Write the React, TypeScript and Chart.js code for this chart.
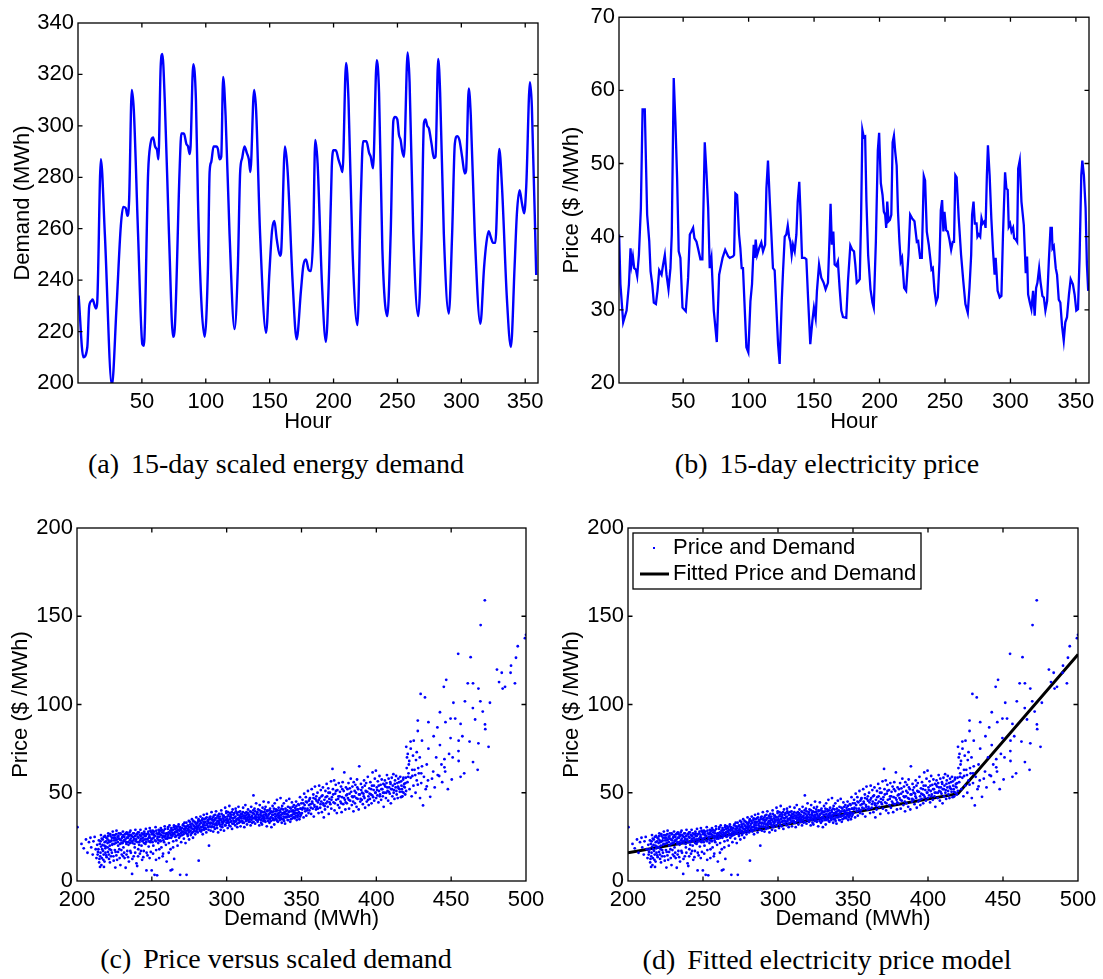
import React, { useEffect, useRef } from 'react';
import { Chart, registerables } from 'chart.js';

Chart.register(...registerables);

const SANS = '"Liberation Sans", Arial, Helvetica, sans-serif';
const SERIF = '"Liberation Serif", "Times New Roman", Times, serif';
const FS = 22;
const BLUE = '#0000ff';

// ---------- tick labels ----------
const hourTicks = [50, 100, 150, 200, 250, 300, 350];
const demandTicks = [200, 220, 240, 260, 280, 300, 320, 340];
const priceTicks = [20, 30, 40, 50, 60, 70];
const scatterDemandTicks = [200, 250, 300, 350, 400, 450, 500];
const scatterPriceTicks = [0, 50, 100, 150, 200];

// ---------- (a) 15-day scaled energy demand ----------
const demandHours = [0.5, 4.2, 7.3, 8.8, 10.7, 11.4, 14, 15, 17.9, 21, 26.5, 30.2, 33.5, 35.4, 37.4, 38.7, 40, 42.1, 43.7, 47, 50.4, 51.5, 54.9, 56.7, 58.8, 60.3, 61.9, 62.9, 64.7, 66, 67.9, 71.2, 74.4, 75.7, 79.6, 80.9, 82.9, 84.8, 86.1, 87.4, 88.1, 90.2, 92.3, 93.9, 96.5, 99.1, 101.7, 103, 104.3, 106.1, 108.2, 109.5, 110.8, 112.1, 113.6, 115.5, 118.6, 122.5, 125.1, 126.9, 128.5, 130.3, 132.1, 133.7, 134.9, 137.8, 139.4, 142.5, 147.2, 149.8, 151.9, 153.7, 155.5, 158.1, 158.9, 162, 164.1, 168, 171.1, 174.5, 176.3, 178.4, 180.5, 182.3, 184.1, 185.7, 187.5, 190.9, 194, 196.6, 198.6, 199.9, 201.8, 203.8, 205.7, 207, 209.8, 211.7, 214.8, 218.7, 221.3, 223.1, 225.7, 227.8, 229.1, 230.9, 233.8, 235.6, 238.2, 242.1, 244.7, 246.8, 248.1, 249.9, 251.2, 252.5, 253.8, 255.1, 258, 259.5, 262.4, 266.3, 268.9, 270.7, 272, 273.3, 274.6, 276.7, 278.5, 279.8, 281.9, 283.4, 286.3, 290.2, 292.8, 294.9, 296.7, 298.5, 300.6, 302.7, 303.7, 305.8, 307.4, 310.5, 314.9, 317.8, 319.6, 321.4, 323.2, 324.8, 326.6, 329.7, 331.8, 335.7, 338.8, 341.7, 343.5, 345.6, 347.4, 349.2, 350.8, 353.7, 355.2, 358.6];
const demandValues = [234, 210, 214, 230, 232, 232.5, 229, 231, 287, 258, 199, 230, 261, 268.5, 268, 265, 271, 314, 306, 258, 215, 214.5, 282, 293, 295.5, 292, 290.5, 287, 323, 328, 310, 258, 218, 221, 284, 297, 297, 293, 292, 289, 292, 324, 310, 271, 232, 218, 245, 282, 286, 292, 292, 291, 287, 288, 319, 304, 258, 221, 245, 282, 287.5, 292, 289.5, 287, 282, 314, 306, 258, 219.5, 243, 259.5, 263, 256, 249.5, 250.5, 292, 282, 239, 217, 236, 245.5, 248, 244, 243.5, 258, 294.5, 285.5, 239, 216, 245, 284, 290.5, 290.5, 287, 284, 282, 324.5, 310, 252, 222.5, 271, 294, 294, 289.5, 288, 283.5, 325.5, 313, 252, 226, 258, 302, 303.5, 302.5, 296.5, 294.5, 290, 288, 328.5, 317, 258, 226, 258, 301, 302.5, 300, 299, 293, 287.5, 288, 326, 313, 258, 227, 258, 293, 296, 294.5, 288, 281.5, 282.5, 314.5, 304, 258, 223, 245, 254.5, 259, 256.5, 254.5, 254.5, 291, 276.5, 232.5, 214, 245.5, 266, 275, 270, 266, 276.5, 317, 307.5, 242];

// ---------- (b) 15-day electricity price ----------
const priceHours = [1.1, 2.1, 4.2, 6.8, 8.6, 9.8, 10.6, 11.6, 12.6, 13.9, 14.9, 16.2, 17.7, 19, 20.7, 22.5, 24.1, 25.1, 26.4, 27.6, 29.2, 30.4, 31.7, 33.5, 34.7, 36, 37.3, 38.8, 40.3, 41.3, 42.8, 44.1, 45.4, 46.6, 47.9, 49.5, 52, 53.8, 55.1, 56.3, 57.6, 58.6, 60.2, 61.4, 63.2, 64.7, 66.5, 67.8, 69.1, 70.3, 71.6, 73.4, 75.7, 77.5, 78.5, 80.1, 82.1, 84.4, 85.6, 88.1, 88.9, 89.9, 91.2, 92.7, 93.7, 94.7, 95.7, 97, 98.3, 99.8, 101.4, 102.6, 103.9, 104.7, 105.4, 106.5, 108, 109.7, 111, 112.6, 113.6, 114.8, 116.2, 117.4, 118.6, 119.9, 121.2, 122.5, 123.7, 125.3, 126.3, 127.6, 128.8, 129.9, 130.9, 131.9, 132.9, 133.9, 135.2, 136.5, 137.5, 138.7, 139.7, 140.8, 142.8, 144.1, 145.4, 147.1, 148.7, 149.9, 151.2, 152.2, 153.8, 155.5, 157.3, 158.8, 160.6, 161.9, 162.6, 163.6, 164.7, 165.7, 167, 168.2, 169.5, 170.8, 172.1, 174.6, 175.9, 177.7, 179.2, 180.5, 181.5, 182.6, 183.8, 184.9, 185.9, 186.9, 188, 189, 190, 191.3, 193.1, 194.6, 195.6, 197.2, 198.7, 199.7, 201, 202.3, 203.3, 204.3, 205.1, 205.9, 206.9, 207.9, 209, 210, 211, 212, 213.1, 214.1, 215.2, 216.2, 217.2, 218.8, 220.3, 222.1, 223.4, 224.9, 226.7, 228.5, 229.5, 231, 232.3, 233.8, 234.8, 236.1, 237.6, 239.7, 240.7, 242, 243.2, 244.5, 245.8, 246.8, 247.8, 248.8, 249.6, 250.9, 252.1, 253.4, 254.7, 255.9, 256.9, 257.9, 258.9, 260.5, 262.3, 264, 265.6, 267.4, 268.7, 270, 270.7, 271.8, 272.8, 274.1, 274.8, 275.8, 276.9, 277.9, 278.9, 280.2, 281, 282, 282.8, 284.1, 285.4, 286.7, 287.9, 288.7, 289.5, 290.2, 291.8, 293.1, 294.3, 295.9, 296.9, 297.9, 298.7, 299.7, 300.8, 302, 302.8, 304.1, 305.1, 305.9, 307.1, 308.4, 310.2, 311.7, 312.7, 313.5, 314.8, 316, 317.3, 318.5, 319.6, 320.6, 321.9, 322.9, 324.4, 325.5, 326.7, 328, 329.3, 330.6, 331.6, 332.1, 333.1, 334.6, 335.6, 336.9, 338.1, 339.4, 340.7, 341.9, 343.2, 344.7, 346, 347.7, 349, 350.3, 351.6, 352.8, 354.1, 354.9, 356.1, 357.4, 358.4, 359.4];
const priceValues = [40.3, 33.5, 28.3, 29.9, 33.5, 38.4, 36.2, 37.3, 35.7, 35.5, 34.6, 37.5, 43.9, 57.4, 57.4, 43, 39.4, 35.3, 33.5, 31, 30.8, 32.6, 35.4, 34.8, 36.2, 37.5, 34.8, 32.8, 35.7, 40.3, 61.7, 55.6, 47.9, 38, 37.1, 30.3, 29.8, 34.4, 40.3, 40.7, 41.2, 39.8, 39.3, 38.4, 36.9, 36.9, 52.9, 48.8, 43.9, 35.7, 37.1, 29.9, 25.6, 34.8, 35.7, 37.1, 38.2, 37.3, 37.1, 37.3, 37.5, 45.9, 45.7, 40.3, 38.4, 35.7, 35.7, 30.3, 24.9, 24.2, 31.2, 33.5, 38.9, 37.1, 39.6, 37.5, 38.4, 39.2, 38, 38.9, 46.6, 50.4, 44.8, 40.3, 35.7, 35.4, 30.3, 25.3, 22.6, 31.2, 35.3, 40, 40.3, 41.5, 40, 39.3, 37.5, 38.9, 38, 40.3, 44.8, 47.5, 43, 37.1, 37.1, 36.9, 31.7, 25.3, 28.5, 30.3, 28.9, 32.6, 36.2, 34.4, 33.7, 32.8, 33.7, 40.3, 44.5, 38.9, 40.7, 36.2, 36, 36.6, 33, 29.9, 29, 28.9, 33.9, 38.8, 38.2, 38, 36.2, 33.7, 33.9, 34.2, 42.5, 54.6, 53.6, 53.7, 44.8, 37.5, 32.8, 31, 30.3, 39.3, 51.8, 54.2, 47.3, 45.7, 43.4, 43, 41.2, 44.8, 42.1, 42.3, 43, 52.9, 53.8, 51.6, 49.7, 43.4, 39.3, 36.6, 37.1, 33, 32.6, 37.5, 43, 42.5, 42.1, 39.3, 39.4, 37.1, 37.1, 48.3, 47.7, 40.7, 38.9, 35.5, 35.7, 32.6, 31, 31.7, 36.6, 43.6, 45, 40.7, 43.4, 40.9, 40.7, 39.6, 38.2, 39.3, 39.3, 48.4, 48.1, 42.5, 37.5, 33.9, 30.8, 29.6, 33, 37.5, 43, 44.8, 41.8, 41.8, 40, 40.3, 40, 42.5, 41.8, 42.1, 41.2, 48.4, 52.5, 48.4, 42.5, 38, 34.8, 37.1, 34.8, 32.6, 31.7, 31.9, 40.3, 48.8, 46.6, 46.4, 41.4, 41.8, 40.7, 41.2, 39.8, 39.6, 39.3, 49.3, 50.4, 44.8, 41.6, 35, 37.3, 32.1, 31, 30.1, 32.6, 29.2, 33, 33.7, 35.7, 33.9, 31.9, 31.7, 29.9, 31.2, 36.6, 41.2, 41.2, 38.4, 38.7, 35.7, 34.8, 31.4, 31, 27.8, 25.8, 28.3, 29, 32.1, 34.2, 33.5, 32.1, 29.9, 30.1, 37.1, 48.4, 50.4, 48.4, 43.9, 36.2, 32.6];

// ---------- (c)/(d) price vs demand scatter: [demand MWh, price $/MWh] ----------
const lowDemandPoints: [number, number][] = [
  [200.3, 30.5], [203, 21], [204.5, 18.5], [206, 23.5], [207, 16], [208, 22], [209, 24.5], [209.5, 19],
  [210.5, 15], [211, 22.5], [211.8, 25], [212.5, 18], [213, 13], [213.5, 20.5], [214, 16.5], [214.6, 23], [214.8, 10.5],
  [215.2, 21], [215.4, 8], [215.5, 14], [216, 26], [216.3, 9], [216.8, 18], [217.2, 23.5], [217.6, 12], [218, 8], [218.3, 20], [218.7, 25.5], [219, 16], [219.4, 22.5], [219.8, 13.5],
  [220.2, 24], [220.5, 19], [220.9, 27], [221.3, 15], [221.6, 22], [222, 10.5], [222.4, 25.5], [222.8, 17.5], [223.1, 23], [223.5, 20.5], [223.9, 28], [224.3, 14], [224.6, 24.5], [224.9, 21],
  [225.2, 26], [225.6, 7.6], [225.8, 16.5], [226, 23], [226.4, 28.5], [226.8, 12], [227.1, 25], [227.5, 20], [227.9, 27], [228.3, 18], [228.6, 23.5], [229, 9], [229.3, 26.5], [229.7, 21.5], [229.9, 15],
  [230.3, 25], [230.7, 28], [231, 19], [231.4, 23], [231.8, 13], [232.1, 26.5], [232.5, 7.5], [232.9, 22], [233.2, 27.5], [233.6, 17], [234, 24.5], [234.4, 20.5], [234.7, 11], [234.9, 26],
  [235.3, 23], [235.7, 28.5], [236, 16], [236.4, 25.5], [236.8, 4], [237.1, 21.5], [237.5, 27], [237.9, 14], [238.2, 24], [238.6, 19], [239, 29], [239.3, 22.5], [239.7, 10], [239.9, 26.5],
  [240.2, 8.5], [240.5, 25], [240.9, 18], [241.3, 27.5], [241.6, 22], [242, 15.5], [242.4, 29], [242.8, 24], [243.1, 20], [243.5, 12], [243.9, 26.5], [244.2, 23], [244.6, 17], [244.9, 28],
  [245.3, 25.5], [245.7, 21], [246, 29.5], [246.4, 6], [246.8, 23.5], [247.1, 14.5], [247.5, 27], [247.9, 19.5], [248.2, 25], [248.6, 30], [249, 22], [249.3, 16.5], [249.7, 27.5], [249.9, 6],
  [250.3, 24], [250.6, 28.5], [251, 20], [251.4, 26], [251.8, 3.5], [252.1, 23], [252.5, 30.5], [252.9, 17.5], [253.2, 27], [253.5, 3.2], [253.9, 25], [254.3, 21.5], [254.6, 29], [254.9, 13],
  [255.3, 26.5], [255.7, 23], [256, 30], [256.4, 19], [256.8, 27.5], [257.1, 24.5], [257.5, 15.5], [257.9, 28.5], [258.2, 22], [258.6, 31], [259, 25.5], [259.4, 20.5], [259.7, 27], [259.9, 11],
  [260.3, 24], [260.7, 29.5], [261, 26], [261.4, 21.5], [261.8, 31.5], [262.1, 27], [262.5, 18], [262.6, 6], [262.9, 24.5], [263.2, 29], [263.6, 6.5], [264, 26.5], [264.3, 22.5], [264.7, 30.5], [264.9, 12.5],
  [265.3, 27.5], [265.7, 25], [266, 31], [266.4, 23], [266.8, 28.5], [267.2, 20], [267.5, 26], [267.9, 32], [268.2, 24.5], [268.6, 29.5], [268.9, 3.5], [269.3, 27], [269.6, 22], [269.9, 30],
  [270.3, 26], [270.7, 31.5], [271, 28], [271.4, 24], [271.8, 33], [272.1, 29], [272.5, 21.5], [272.9, 27], [273.2, 3.5], [273.6, 31], [274, 25.5], [274.3, 29.5], [274.7, 34], [274.9, 23.5],
  [275.3, 28], [275.7, 32], [276, 26], [276.4, 30], [276.8, 35], [277.1, 27.5], [277.5, 24.5], [277.9, 31.5], [278.2, 29], [278.6, 33.5], [279, 26.5], [279.3, 30.5], [279.7, 36], [279.9, 28.5],
  [280.3, 31], [280.7, 27.5], [281, 34], [281.3, 11.5], [281.8, 29.5], [282.1, 32.5], [282.5, 36.5], [282.9, 28], [283.2, 30.5], [283.6, 34.5], [284, 26.5], [284.3, 32], [284.7, 37.5], [284.9, 29],
  [285.3, 33], [285.7, 30], [286, 35.5], [286.4, 27.5], [286.8, 38], [287.1, 31.5], [287.5, 34], [287.9, 29], [288.2, 20], [288.6, 36], [289, 32.5], [289.3, 28.5], [289.7, 35], [289.9, 39],
  [290.3, 31], [290.7, 34.5], [291, 28], [291.4, 37], [291.8, 32], [292.1, 29.5], [292.5, 35.5], [292.9, 39.5], [293.2, 33], [293.6, 30], [294, 36.5], [294.3, 27.5], [294.7, 34], [294.9, 38],
  [295.3, 32], [295.7, 35], [296, 29], [296.4, 40], [296.8, 33.5], [297.1, 30.5], [297.5, 37], [297.9, 34.5], [298.2, 28.5], [298.6, 36], [299, 41.5], [299.3, 31.5], [299.7, 38.5], [299.9, 33],
];
const lowerTailPoints: [number, number][] = [
  [213.8, 15], [214.3, 18], [215, 12.5], [215.7, 16], [216.1, 19.5], [216.6, 13], [217.4, 17], [217.8, 15], [218.4, 11], [218.9, 18.5], [219.5, 14.5], [220.7, 16.5], [221.4, 12.5], [221.8, 18], [222.7, 14], [223.3, 16], [224.5, 11.5], [225.3, 17.5], [226.3, 14.5], [227.4, 16.5],
  [228.5, 13], [229.6, 17.5], [230.8, 14], [231.5, 16], [233.1, 15], [234.1, 13.5], [235.6, 17], [237, 12.5], [238.9, 16], [240.8, 14], [242.7, 17], [244.3, 13.5], [246.5, 16], [248.5, 13], [250.8, 15.5], [252.8, 12], [255, 18], [257.2, 14], [261.3, 16], [264.2, 19],
];
const coreBandPoints: [number, number][] = [
  [215.8, 22.5], [216.5, 24], [217, 20.5], [217.9, 25], [218.5, 22], [219.2, 19.5], [219.6, 24.5], [220.4, 21.5], [220.8, 25.5], [221.1, 23], [221.9, 20], [222.2, 26.5], [222.6, 22.5], [223.3, 24.5], [223.7, 21], [224.1, 26], [224.8, 23], [225.4, 24.5], [225.9, 21.5], [226.2, 26.5],
  [226.6, 23.5], [227.3, 22], [227.7, 25.5], [228.1, 24], [228.8, 21], [229.1, 27], [229.5, 23], [230.1, 24.5], [230.5, 21.5], [230.9, 26], [231.2, 22.5], [231.6, 25], [232.3, 23.5], [232.7, 27], [233, 21], [233.4, 24.5], [233.8, 26.5], [234.2, 22], [234.6, 25.5], [235.1, 27.5],
  [235.5, 21.5], [235.9, 24], [236.2, 26], [236.6, 22.5], [237.3, 25], [237.7, 23], [238, 27], [238.4, 21], [238.8, 25.5], [239.5, 23.5], [240, 26.5], [240.4, 22], [240.7, 27.5], [241.1, 24.5], [241.5, 20.5], [241.9, 26], [242.2, 23], [242.6, 25.5], [243.3, 27], [243.7, 22.5],
  [244, 24.5], [244.4, 26.5], [244.8, 21.5], [245.1, 27], [245.5, 23.5], [245.9, 25.5], [246.2, 22], [246.6, 26.5], [247.3, 24], [247.7, 28], [248, 22.5], [248.4, 26], [248.8, 24.5], [249.1, 28.5], [249.5, 23], [250.1, 26.5], [250.5, 22], [250.9, 27], [251.2, 24.5], [251.6, 28],
  [252.3, 25.5], [252.7, 22.5], [253, 28.5], [253.7, 24], [254.1, 26.5], [254.5, 23], [254.8, 27.5], [255.1, 25], [255.5, 28.5], [255.9, 22.5], [256.2, 26], [256.6, 29], [257.3, 25.5], [257.7, 23], [258, 27], [258.4, 25], [258.8, 29.5], [259.2, 24], [259.6, 26.5],
  [260.1, 27], [260.5, 25], [260.9, 30.5], [261.2, 27.5], [261.6, 24.5], [262.3, 28.5], [262.7, 26], [263, 30], [263.4, 27.5], [263.8, 25.5], [264.1, 29], [264.5, 27], [264.8, 31.5], [265.1, 26.5], [265.5, 29.5], [265.9, 28], [266.2, 25.5], [266.6, 30], [267, 27.5], [267.4, 29],
  [267.7, 31], [268.1, 26.5], [268.4, 28.5], [268.8, 30.5], [269.1, 25.5], [269.5, 29], [269.8, 27.5], [270.1, 30], [270.5, 28], [270.9, 32], [271.2, 26.5], [271.6, 29.5], [272, 31], [272.3, 27.5], [272.7, 30], [273.1, 33], [273.4, 28.5], [273.8, 26.5], [274.1, 31.5], [274.5, 29],
  [274.8, 27.5], [275.1, 30.5], [275.5, 33.5], [275.9, 28.5], [276.2, 31], [276.6, 27], [277, 32.5], [277.3, 29.5], [277.7, 34], [278, 28], [278.4, 31], [278.8, 30], [279.1, 33], [279.5, 28], [279.8, 32], [280.1, 29.5], [280.5, 33], [280.9, 30.5], [281.2, 35], [281.6, 31.5],
  [282, 28.5], [282.3, 34], [282.7, 30.5], [283, 33], [283.4, 29], [283.8, 35.5], [284.1, 31], [284.5, 33.5], [284.8, 30], [285.1, 35], [285.5, 31.5], [285.9, 33.5], [286.2, 29.5], [286.6, 36], [287, 32.5], [287.3, 34.5], [287.7, 30.5], [288, 33], [288.4, 35], [288.8, 31],
  [289.1, 36.5], [289.5, 33], [289.8, 30.5], [290.1, 35], [290.5, 32.5], [290.9, 36], [291.2, 33.5], [291.6, 30.5], [292, 34.5], [292.3, 37.5], [292.7, 32], [293, 35.5], [293.4, 31.5], [293.8, 34], [294.1, 37], [294.5, 32.5], [294.8, 35.5], [295.1, 33], [295.5, 36.5], [295.9, 31],
  [296.2, 34.5], [296.6, 38], [297, 32], [297.3, 35.5], [297.7, 33], [298, 37], [298.4, 34], [298.8, 31.5], [299.1, 36], [299.5, 34.5], [299.8, 39.5],
  [300.1, 33], [300.5, 36.5], [300.9, 34], [301.2, 37.5], [301.6, 31.5], [302, 35], [302.3, 38.5], [302.7, 33.5], [303, 36], [303.4, 39], [303.8, 32.5], [304.1, 35.5], [304.5, 37.5], [304.8, 34], [305.1, 38.5], [305.5, 33.5], [305.9, 36.5], [306.2, 39.5], [306.6, 35], [307, 32.5],
  [307.3, 37.5], [307.7, 35.5], [308, 39], [308.4, 34.5], [308.8, 36], [309.1, 33.5], [309.5, 38], [309.8, 35.5], [310.1, 36.5], [310.5, 34], [310.9, 39], [311.2, 37], [311.6, 33], [312, 35.5], [312.3, 38.5], [312.7, 36], [313, 34], [313.4, 37.5], [313.8, 35], [314.1, 38.5],
  [314.5, 34.5], [314.8, 36.5], [315.1, 37.5], [315.5, 33.5], [315.9, 36], [316.2, 39], [316.6, 34.5], [317, 37], [317.3, 35.5], [317.7, 40], [318, 33.5], [318.4, 38], [318.8, 36], [319.1, 39.5], [319.5, 35], [320.1, 36], [320.5, 39], [320.9, 34.5], [321.2, 37.5], [321.6, 35],
  [322, 40], [322.3, 36], [322.7, 38.5], [323, 33], [323.4, 37], [323.8, 35.5], [324.1, 39], [324.5, 34], [324.8, 37.5], [325.1, 36], [325.5, 40.5], [325.9, 33.5], [326.2, 38], [326.6, 35.5], [327, 39.5], [327.3, 36.5], [327.7, 34], [328, 37.5], [328.4, 40], [328.8, 35],
  [329.1, 38.5], [329.5, 34], [330.1, 36], [330.5, 39], [330.9, 35.5], [331.2, 37.5], [331.6, 41], [332, 34.5], [332.3, 38], [332.7, 35.5], [333, 39.5], [333.4, 37], [333.8, 34], [334.1, 40], [334.5, 36], [334.8, 38.5], [335.1, 37], [335.5, 34.5], [335.9, 39], [336.2, 36],
  [336.6, 41], [337, 35], [337.3, 38], [337.7, 40.5], [338, 36.5], [338.4, 34], [338.8, 38], [339.1, 36], [339.5, 39.5], [340.1, 36], [340.5, 40], [340.9, 37.5], [341.2, 34.5], [341.6, 39], [342, 36.5], [342.3, 41.5], [342.7, 37], [343, 35], [343.4, 39.5], [343.8, 37.5],
  [344.1, 42], [344.5, 36], [344.8, 39], [345.1, 38], [345.5, 35.5], [345.9, 40], [346.2, 37], [346.6, 42.5], [347, 38.5], [347.3, 36], [347.7, 40.5], [348, 37.5], [348.4, 43], [348.8, 38.5], [349.1, 36.5], [349.5, 41],
  [350.5, 40.5], [351.2, 44], [352.3, 41], [353, 45], [353.8, 40], [355, 43], [355.5, 46.5], [356.2, 41.5], [357.3, 44], [358, 47], [358.8, 42], [360, 45.5], [360.9, 41], [361.6, 46], [362.7, 43.5], [363.4, 48], [364.5, 44], [365.5, 42.5], [366.2, 47.5], [367.3, 45],
  [368, 50], [368.8, 44.5], [370, 46], [371.2, 49], [372.3, 44], [373, 51], [374.5, 46.5], [375.5, 48], [376.6, 44], [377.3, 52], [378.4, 47], [379.5, 44.5], [380.5, 49], [381.6, 46], [382.3, 52.5], [383.8, 48], [384.5, 45], [385.5, 51], [386.6, 47], [387.3, 53],
  [388.4, 49], [389.5, 46.5], [390.5, 50], [391.6, 48], [392.3, 54], [393.4, 50.5], [394.5, 46], [395.5, 49.5], [396.6, 52], [397.3, 48.5], [398.4, 54], [399.5, 50], [400.5, 51.5], [401.6, 54], [402.3, 48], [403.4, 52], [404.5, 50], [405.5, 54.5], [406.6, 50], [407.3, 53],
  [408.4, 50.5], [409.5, 55], [410.5, 52], [411.6, 50], [412.3, 55], [413.4, 51], [414.5, 53.5], [415.5, 52], [416.6, 56.5], [417.3, 50.5], [418.4, 53.5], [419.5, 55.5],
];
const midDemandPoints: [number, number][] = [
  [300.3, 35], [300.7, 30], [301, 39], [301.4, 33], [301.8, 42.5], [302.1, 36.5], [302.5, 31], [302.9, 37.5], [303.2, 34], [303.6, 29.5], [304, 40.5], [304.3, 35.5], [304.7, 32.5], [304.9, 38],
  [305.3, 36], [305.7, 31.5], [306, 41], [306.4, 34], [306.8, 38.5], [307.1, 30.5], [307.5, 35], [307.9, 42], [308.2, 33], [308.6, 37], [309, 39.5], [309.3, 31], [309.7, 36.5], [309.9, 34],
  [310.3, 38], [310.7, 33], [311, 41.5], [311.4, 35.5], [311.8, 30.5], [312.1, 37], [312.5, 43], [312.9, 34.5], [313.2, 39], [313.6, 32], [314, 36], [314.3, 40.5], [314.7, 33.5], [314.9, 37.5],
  [315.3, 35], [315.7, 39.5], [316, 31.5], [316.4, 42], [316.8, 36.5], [317.1, 33], [317.5, 38.5], [317.9, 48.5], [318.2, 35.5], [318.6, 41], [319, 32.5], [319.3, 37], [319.7, 44], [319.9, 34.5],
  [320.3, 38], [320.7, 33.5], [321, 40.5], [321.4, 36], [321.8, 31.5], [322.1, 43], [322.5, 37.5], [322.9, 34.5], [323.2, 39.5], [323.6, 32], [324, 41.5], [324.3, 36.5], [324.7, 45], [324.9, 35],
  [325.3, 39], [325.7, 34], [326, 42], [326.4, 37], [326.8, 31], [327.1, 40], [327.5, 35.5], [327.9, 44.5], [328.2, 38], [328.6, 33], [329, 41], [329.3, 36], [329.7, 39.5], [329.9, 30.5],
  [330.3, 37.5], [330.7, 42.5], [331, 34.5], [331.4, 39.5], [331.8, 32], [332.1, 44], [332.5, 36.5], [332.9, 40.5], [333.2, 35], [333.6, 46], [334, 38], [334.3, 33.5], [334.7, 41.5], [334.9, 37],
  [335.3, 35.5], [335.7, 40], [336, 47], [336.4, 37.5], [336.8, 33], [337.1, 42.5], [337.5, 38.5], [337.9, 35], [338.2, 44], [338.6, 39], [339, 32.5], [339.3, 41], [339.7, 36.5], [339.9, 45.5],
  [340.3, 38], [340.7, 34.5], [341, 42], [341.4, 36.5], [341.8, 46.5], [342.1, 39.5], [342.5, 33.5], [342.9, 41], [343.2, 37], [343.6, 44.5], [344, 35.5], [344.3, 40], [344.7, 38], [344.9, 43],
  [345.3, 36], [345.7, 41.5], [346, 38.5], [346.4, 45], [346.8, 34.5], [347.1, 40.5], [347.5, 37], [347.9, 43.5], [348.2, 39], [348.6, 35], [349, 47.5], [349.3, 41], [349.7, 37.5], [349.9, 44],
  [350.3, 38.5], [350.7, 46], [351, 41.5], [351.4, 36], [351.8, 49.5], [352.1, 43], [352.5, 39.5], [352.9, 47.5], [353.2, 37], [353.6, 44.5], [354, 41], [354.3, 51], [354.7, 38.5], [354.9, 45.5],
  [355.3, 40], [355.7, 47], [356, 43.5], [356.4, 38], [356.8, 52], [357.1, 45], [357.5, 41], [357.9, 49], [358.2, 36.5], [358.6, 43], [359, 53.5], [359.3, 46.5], [359.7, 40.5], [359.9, 48],
  [360.3, 42], [360.7, 50], [361, 44.5], [361.4, 38.5], [361.8, 54], [362.1, 47], [362.5, 41.5], [362.9, 51.5], [363.2, 45], [363.6, 39], [364, 48.5], [364.3, 53], [364.7, 43], [364.9, 36],
  [365.3, 46], [365.7, 40.5], [366, 51], [366.4, 44], [366.8, 55], [367.1, 48], [367.5, 42], [367.9, 52.5], [368.2, 38], [368.6, 46.5], [369, 50], [369.3, 43.5], [369.7, 56.5], [369.9, 41],
  [370.3, 47.5], [370.7, 63.5], [371, 52], [371.4, 44.5], [371.8, 57], [372.1, 40], [372.5, 49.5], [372.9, 54.5], [373.2, 46], [373.6, 38.5], [374, 51.5], [374.3, 43], [374.7, 48], [374.9, 55.5],
  [375.3, 41.5], [375.7, 50.5], [376, 45], [376.4, 53.5], [376.8, 39], [377.1, 47.5], [377.5, 56], [377.9, 43.5], [378.2, 51], [378.6, 61.5], [379, 46], [379.3, 40.5], [379.7, 53], [379.9, 48.5],
  [380.3, 44], [380.7, 52], [381, 47], [381.4, 55.5], [381.8, 41], [382.1, 49.5], [382.5, 45.5], [382.9, 58], [383.2, 50.5], [383.6, 43], [384, 53.5], [384.3, 47.5], [384.7, 39.5], [384.9, 56],
  [385.3, 48], [385.7, 44], [386, 54.5], [386.4, 50], [386.8, 42], [387.1, 57.5], [387.5, 46.5], [387.9, 52], [388.2, 40.5], [388.6, 65], [389, 49], [389.3, 45], [389.7, 55], [389.9, 51.5],
  [390.3, 46], [390.7, 53], [391, 43.5], [391.4, 49.5], [391.8, 57], [392.1, 47], [392.5, 41.5], [392.9, 51], [393.2, 55.5], [393.6, 45], [394, 50.5], [394.3, 59], [394.7, 48], [394.9, 43],
  [395.3, 52.5], [395.7, 46.5], [396, 56], [396.4, 49], [396.8, 44], [397.1, 54], [397.5, 61.5], [397.9, 47.5], [398.2, 51.5], [398.6, 45.5], [399, 58], [399.3, 50], [399.7, 62.5], [399.9, 47],
  [400.3, 53], [400.7, 48.5], [401, 56.5], [401.4, 44.5], [401.8, 51], [402.1, 59.5], [402.5, 49], [402.9, 54.5], [403.2, 46], [403.6, 57.5], [404, 52], [404.3, 48], [404.7, 55], [404.9, 42],
  [405.3, 50], [405.7, 57], [406, 53.5], [406.4, 47], [406.8, 55.5], [407.1, 60], [407.5, 51], [407.9, 45.5], [408.2, 58], [408.6, 53], [409, 49.5], [409.3, 56], [409.7, 44], [409.9, 52],
  [410.3, 58.5], [410.7, 48], [411, 54], [411.4, 60.5], [411.8, 51.5], [412.1, 46.5], [412.5, 57], [412.9, 53], [413.2, 59.5], [413.6, 49], [414, 55.5], [414.3, 47], [414.7, 58], [414.9, 52.5],
  [415.3, 56], [415.7, 50.5], [416, 59], [416.4, 47.5], [416.8, 54], [417, 47.7], [417.1, 52], [417.5, 48], [417.9, 57.5], [418.1, 58.5], [418.2, 50], [418.6, 55], [419, 53], [419.3, 49], [419.7, 58.5], [419.9, 51],
];
const highDemandPoints: [number, number][] = [
  [420, 76], [420.3, 64], [420.5, 70], [420.8, 56], [421, 72], [421.3, 59], [421.5, 61], [421.7, 66], [422, 68], [422.2, 52], [422.9, 79], [422.9, 58.5], [423, 75], [423.6, 48], [424, 63], [424.1, 59.5], [424.5, 71], [424.8, 54], [425, 79.5], [425.5, 63], [426, 60], [426.2, 50], [426.5, 68.5], [427, 57], [427, 73],
  [427.7, 85], [427.7, 90.9], [427.7, 54.6], [428, 64], [428.4, 61], [429, 70], [429.2, 47], [429.6, 106], [430, 55.5], [430, 61], [430.5, 79.5], [430.5, 65], [431.2, 42.8], [431.8, 59], [432.5, 104], [433, 52], [433.7, 66], [433.7, 53.6], [434.5, 57], [434.8, 90], [434.8, 75],
  [436, 47.7], [437.2, 58], [438, 62], [438.3, 82], [439, 53], [440, 70], [440.8, 87], [441, 60], [442, 59.5], [442.5, 95.6], [442.5, 77], [443.5, 66], [444, 56], [445.1, 110], [445.5, 69], [445.5, 64.4], [446, 62], [446.2, 90], [446.7, 114], [447.8, 52], [448.6, 72], [449.6, 92], [449.6, 81],
  [450.4, 57.5], [451, 70], [451.5, 101], [452.7, 92], [454.7, 128.7], [454.9, 73.6], [455, 79.5], [455, 68], [456.3, 89], [456.3, 59], [457.5, 82], [458.7, 61], [459.2, 101.8], [461.1, 112], [462.3, 79], [463, 126.8], [464.5, 98], [464.6, 112], [464.6, 67.4], [466, 91.5], [467.7, 63],
  [468.2, 109], [468.2, 78], [469.5, 101.8], [469.7, 145], [471.1, 96], [472.5, 159], [472.6, 88.7], [472.8, 86], [475, 76], [475.9, 101], [480.6, 119.8], [482, 112.7], [483.8, 118], [484.4, 109], [486, 110], [489.7, 118], [490, 122], [492.6, 112], [493.3, 126.5], [494.5, 133], [499.3, 137.6], [500, 139.5],
];

// ---------- (d) fitted piecewise price model ----------
const fittedDemand = [200, 420, 500];
const fittedPrice = [16, 49.5, 128.4];

const scatterPoints = [...lowDemandPoints, ...lowerTailPoints, ...coreBandPoints, ...midDemandPoints, ...highDemandPoints].map(([x, y]) => ({ x, y }));

// ---------- helpers ----------
const framePlugin = {
  id: 'frame',
  afterDatasetsDraw(chart: any, _args: any, opts: any) {
    const { ctx, chartArea: a, scales } = chart;
    ctx.save();
    ctx.strokeStyle = '#000';
    ctx.lineWidth = 1.3;
    ctx.strokeRect(a.left, a.top, a.right - a.left, a.bottom - a.top);
    const tl = 4.5;
    ctx.beginPath();
    scales.x.ticks.forEach((t: any) => {
      const px = scales.x.getPixelForValue(t.value);
      if (px <= a.left + 1 || px >= a.right - 1) return;
      ctx.moveTo(px, a.bottom); ctx.lineTo(px, a.bottom - tl);
      ctx.moveTo(px, a.top); ctx.lineTo(px, a.top + tl);
    });
    scales.y.ticks.forEach((t: any) => {
      const py = scales.y.getPixelForValue(t.value);
      if (py <= a.top + 1 || py >= a.bottom - 1) return;
      ctx.moveTo(a.left, py); ctx.lineTo(a.left + tl, py);
      ctx.moveTo(a.right, py); ctx.lineTo(a.right - tl, py);
    });
    ctx.stroke();

    ctx.fillStyle = '#000';
    ctx.font = `${FS}px ${SANS}`;
    ctx.textAlign = 'center';
    ctx.textBaseline = 'middle';
    ctx.fillText(opts.xTitle, (a.left + a.right) / 2, a.bottom + opts.xTitleOffset);
    ctx.save();
    ctx.translate(a.left - opts.yTitleOffset, (a.top + a.bottom) / 2);
    ctx.rotate(-Math.PI / 2);
    ctx.fillText(opts.yTitle, 0, 0);
    ctx.restore();

    if (opts.legend) {
      const bx = a.left + 5, by = a.top + 5, bw = 288, bh = 56;
      ctx.fillStyle = '#fff';
      ctx.fillRect(bx, by, bw, bh);
      ctx.lineWidth = 1.3;
      ctx.strokeStyle = '#000';
      ctx.strokeRect(bx, by, bw, bh);
      ctx.fillStyle = BLUE;
      ctx.fillRect(bx + 20, by + 14, 2, 2);
      ctx.strokeStyle = '#000';
      ctx.lineWidth = 3;
      ctx.beginPath();
      ctx.moveTo(bx + 7, by + 41); ctx.lineTo(bx + 36, by + 41);
      ctx.stroke();
      ctx.fillStyle = '#000';
      ctx.textAlign = 'left';
      ctx.fillText(opts.legendLabels[0], bx + 40, by + 15);
      ctx.fillText(opts.legendLabels[1], bx + 40, by + 41);
    }
    ctx.restore();
  },
};

function makeAxis(min: number, max: number, tickValues: number[], isX: boolean, size: number, pad: number) {
  return {
    type: 'linear',
    min,
    max,
    grid: { display: false, drawTicks: false },
    border: { display: false },
    ticks: { autoSkip: false, maxRotation: 0, padding: pad, color: '#000', font: { family: SANS, size: FS } },
    afterBuildTicks: (s: any) => { s.ticks = tickValues.map((v) => ({ value: v })); },
    afterFit: (s: any) => { if (isX) s.height = size; else s.width = size; },
  };
}

function baseOptions(padding: any, x: any, y: any, frame: any) {
  return {
    responsive: false,
    animation: false,
    events: [],
    layout: { padding, autoPadding: false },
    scales: { x, y },
    plugins: { legend: { display: false }, tooltip: { enabled: false }, frame },
  };
}

const configA = () => ({
  type: 'line',
  data: {
    datasets: [{
      data: demandHours.map((h, i) => ({ x: h, y: demandValues[i] })),
      borderColor: BLUE, borderWidth: 2.4, pointRadius: 0, cubicInterpolationMode: 'monotone', fill: false,
    }],
  },
  options: baseOptions(
    { left: 0, top: 23, right: 22, bottom: 0 },
    makeAxis(0, 360, hourTicks, true, 62, 6),
    makeAxis(200, 340, demandTicks, false, 78, 4),
    { xTitle: 'Hour', yTitle: 'Demand (MWh)', xTitleOffset: 38.5, yTitleOffset: 55.5 },
  ),
  plugins: [framePlugin],
});

const configB = () => ({
  type: 'line',
  data: {
    datasets: [{
      data: priceHours.map((h, i) => ({ x: h, y: priceValues[i] })),
      borderColor: BLUE, borderWidth: 2.3, pointRadius: 0, tension: 0, fill: false,
    }],
  },
  options: baseOptions(
    { left: 0, top: 14, right: 14, bottom: 0 },
    makeAxis(1, 360, hourTicks, true, 62, 6),
    makeAxis(20, 70, priceTicks, false, 59, 4),
    { xTitle: 'Hour', yTitle: 'Price ($ /MWh)', xTitleOffset: 38.5, yTitleOffset: 47 },
  ),
  plugins: [framePlugin],
});

const scatterDataset = () => ({
  type: 'scatter',
  data: scatterPoints,
  pointRadius: 1.4,
  pointBorderWidth: 0,
  pointBackgroundColor: BLUE,
  pointBorderColor: BLUE,
  showLine: false,
});

const configC = () => ({
  type: 'scatter',
  data: { datasets: [scatterDataset()] },
  options: baseOptions(
    { left: 0, top: 38, right: 34, bottom: 0 },
    makeAxis(200, 500, scatterDemandTicks, true, 59, 6),
    makeAxis(0, 200, scatterPriceTicks, false, 77, 4),
    { xTitle: 'Demand (MWh)', yTitle: 'Price ($ /MWh)', xTitleOffset: 38, yTitleOffset: 56 },
  ),
  plugins: [framePlugin],
});

const configD = () => ({
  type: 'scatter',
  data: {
    datasets: [
      scatterDataset(),
      {
        type: 'line',
        data: fittedDemand.map((d, i) => ({ x: d, y: fittedPrice[i] })),
        borderColor: '#000', borderWidth: 3, pointRadius: 0, tension: 0, fill: false,
      },
    ],
  },
  options: baseOptions(
    { left: 0, top: 38, right: 25, bottom: 0 },
    makeAxis(200, 500, scatterDemandTicks, true, 59, 6),
    makeAxis(0, 200, scatterPriceTicks, false, 68, 4),
    {
      xTitle: 'Demand (MWh)', yTitle: 'Price ($ /MWh)', xTitleOffset: 38, yTitleOffset: 56,
      legend: true, legendLabels: ['Price and Demand', 'Fitted Price and Demand'],
    },
  ),
  plugins: [framePlugin],
});

function ChartPanel({ left, top, width, height, makeConfig }: { left: number; top: number; width: number; height: number; makeConfig: () => any }) {
  const ref = useRef<HTMLCanvasElement>(null);
  useEffect(() => {
    const chart = new Chart(ref.current as HTMLCanvasElement, makeConfig());
    return () => chart.destroy();
  }, []);
  return (
    <canvas
      ref={ref}
      width={width}
      height={height}
      style={{ position: 'absolute', left, top, width, height, display: 'block' }}
    />
  );
}

function Caption({ cx, cy, label, text }: { cx: number; cy: number; label: string; text: string }) {
  return (
    <div
      style={{
        position: 'absolute', left: cx - 300, top: cy - 18, width: 600, textAlign: 'center',
        fontFamily: SERIF, fontSize: 28, lineHeight: '32px', color: '#000', whiteSpace: 'nowrap',
      }}
    >
      <span>{label}</span>
      <span style={{ marginLeft: 12 }}>{text}</span>
    </div>
  );
}

export default function App() {
  return (
    <div style={{ position: 'absolute', left: 0, top: 0, width: 1103, height: 979, background: '#fff', overflow: 'hidden' }}>
      <ChartPanel left={0} top={0} width={560} height={445} makeConfig={configA} />
      <ChartPanel left={560} top={0} width={543} height={445} makeConfig={configB} />
      <ChartPanel left={0} top={490} width={560} height={450} makeConfig={configC} />
      <ChartPanel left={560} top={490} width={543} height={450} makeConfig={configD} />
      <Caption cx={276} cy={466} label="(a)" text="15-day scaled energy demand" />
      <Caption cx={827} cy={466} label="(b)" text="15-day electricity price" />
      <Caption cx={276} cy={961} label="(c)" text="Price versus scaled demand" />
      <Caption cx={827} cy={962} label="(d)" text="Fitted electricity price model" />
    </div>
  );
}
